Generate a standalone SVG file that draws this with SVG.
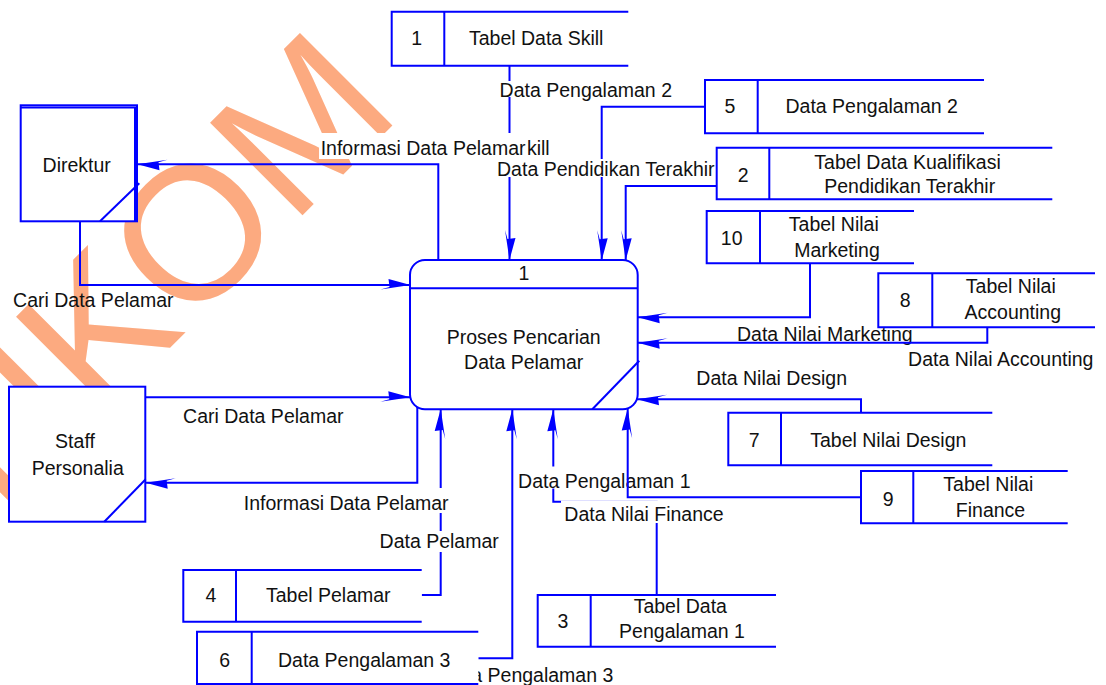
<svg xmlns="http://www.w3.org/2000/svg" width="1106" height="685" viewBox="0 0 1106 685">
  <defs>
    <style>
      text { font-family: "Liberation Sans", Arial, sans-serif; font-size: 19.5px; fill: #111; }
      .c { text-anchor: middle; }
      .e { text-anchor: end; }
      .box { fill: #fff; stroke: #0000FF; stroke-width: 2; }
      .ln { fill: none; stroke: #0000FF; stroke-width: 2; }
      .flow { fill: none; stroke: #0000FF; stroke-width: 2; marker-end: url(#arrow); }
      .bg { fill: #fff; }
      .wm { font-size: 190px; fill: #FCAA80; }
    </style>
    <marker id="arrow" markerUnits="userSpaceOnUse" orient="auto" viewBox="-32 -8 34 16" markerWidth="34" markerHeight="16" refX="0" refY="0" overflow="visible">
      <path d="M0,0 L-22,-6 L-21,2 L-30,4.5 Z" fill="#0000FF"/>
    </marker>
  </defs>

  <rect width="1106" height="685" fill="#fff"/>

  <!-- background watermark -->
  <g id="watermark">
    <text class="wm" transform="translate(-111.5,629.3) rotate(-45)">STIKOM</text>
  </g>

  <!-- data flows, each with its label -->
  <g id="connectors">
    <g id="flow-skill">
      <path class="flow" d="M509.5,65.7 V260"/>
      <text class="e" x="549.7" y="155">Data Skill</text>
    </g>
    <g id="flow-pengalaman2">
      <path class="flow" d="M705,106.7 H601.7 V260.3"/>
      <rect class="bg" x="499" y="81" width="174" height="16"/>
      <text class="c" x="585.8" y="96.5">Data Pengalaman 2</text>
    </g>
    <g id="flow-pendidikan">
      <path class="flow" d="M716.7,186 H625.7 V260.3"/>
      <rect class="bg" x="497" y="159" width="218" height="18"/>
      <text class="c" x="605.8" y="176">Data Pendidikan Terakhir</text>
    </g>
    <g id="flow-info-direktur">
      <path class="flow" d="M438.3,260 V164.3 H137.5"/>
      <rect class="bg" x="319" y="133" width="208" height="26"/>
      <text class="c" x="423.1" y="154.8">Informasi Data Pelamar</text>
    </g>
    <g id="flow-cari-direktur">
      <path class="flow" d="M80,221.3 V285 H410.5"/>
      <text class="c" x="93.3" y="307">Cari Data Pelamar</text>
    </g>
    <g id="flow-cari-staff">
      <path class="flow" d="M145.3,397.3 H410.3"/>
      <text class="c" x="263.3" y="423.3">Cari Data Pelamar</text>
    </g>
    <g id="flow-pelamar">
      <path class="flow" d="M421.7,595 H440.7 V409"/>
      <rect class="bg" x="380" y="531" width="119" height="21"/>
      <text class="c" x="439.2" y="547.7">Data Pelamar</text>
    </g>
    <g id="flow-info-staff">
      <path class="flow" d="M417.3,407 V482.7 H145.7"/>
      <rect class="bg" x="244" y="488" width="205" height="25"/>
      <text class="c" x="346.2" y="510">Informasi Data Pelamar</text>
    </g>
    <g id="flow-pengalaman3">
      <path class="flow" d="M478.3,658.3 H512.3 V409.3"/>
      <text class="e" x="613.3" y="681.7">Data Pengalaman 3</text>
    </g>
    <g id="flow-pengalaman1">
      <path class="flow" d="M656.7,595 V501.7 H553.3 V409.3"/>
      <rect class="bg" x="518" y="466.5" width="173" height="22"/>
      <text class="c" x="604.3" y="487.8">Data Pengalaman 1</text>
    </g>
    <g id="flow-finance">
      <path class="flow" d="M861,497.3 H627.7 V408.5"/>
      <rect class="bg" x="561" y="500.5" width="166" height="22.5"/>
      <text class="c" x="644" y="520.7">Data Nilai Finance</text>
    </g>
    <g id="flow-design">
      <path class="flow" d="M861,412.7 V399.3 H637"/>
      <text class="c" x="771.7" y="385">Data Nilai Design</text>
    </g>
    <g id="flow-marketing">
      <path class="flow" d="M810,263.3 V317.3 H637.7"/>
      <text class="c" x="824.8" y="341">Data Nilai Marketing</text>
    </g>
    <g id="flow-accounting">
      <path class="flow" d="M987.3,327.3 V342.7 H637.7"/>
      <text class="c" x="1000.8" y="366">Data Nilai Accounting</text>
    </g>
  </g>

  <!-- process -->
  <g id="process-1">
    <rect class="box" x="410" y="260" width="227.7" height="149.3" rx="15" ry="15"/>
    <line class="ln" x1="410" y1="288.3" x2="637.7" y2="288.3"/>
    <line class="ln" x1="592.3" y1="409.3" x2="639.3" y2="360.7"/>
    <text class="c" x="524" y="280">1</text>
    <text class="c" x="523.7" y="344">Proses Pencarian</text>
    <text class="c" x="523.7" y="369">Data Pelamar</text>
  </g>

  <!-- external entities -->
  <g id="entity-direktur">
    <rect class="box" x="20.7" y="105.3" width="116.3" height="116"/>
    <polyline class="ln" points="20.7,107.5 135,107.5 135,221.3"/>
    <line class="ln" x1="100" y1="221.3" x2="139.3" y2="183.3"/>
    <text class="c" x="76.7" y="171.7">Direktur</text>
  </g>
  <g id="entity-staff">
    <rect class="box" x="9" y="386.7" width="136.3" height="135"/>
    <line class="ln" x1="104.3" y1="521.7" x2="145.7" y2="479.3"/>
    <text class="c" x="75" y="448.3">Staff</text>
    <text class="c" x="77.7" y="475">Personalia</text>
  </g>

  <!-- data stores -->
  <g id="store-1">
    <rect x="391.7" y="11.7" width="236.6" height="54" fill="#fff"/>
    <path class="ln" d="M628.3,11.7 H391.7 V65.7 H628.3 M444.3,11.7 V65.7"/>
    <text class="c" x="416.7" y="45">1</text>
    <text class="c" x="536.2" y="45">Tabel Data Skill</text>
  </g>
  <g id="store-5">
    <rect x="705" y="80" width="279" height="53.3" fill="#fff"/>
    <path class="ln" d="M984,80 H705 V133.3 H984 M757.7,80 V133.3"/>
    <text class="c" x="730" y="113.3">5</text>
    <text class="c" x="871.7" y="113.3">Data Pengalaman 2</text>
  </g>
  <g id="store-2">
    <rect x="716.7" y="147.7" width="335.6" height="51.6" fill="#fff"/>
    <path class="ln" d="M1052.3,147.7 H716.7 V199.3 H1052.3 M769.3,147.7 V199.3"/>
    <text class="c" x="743.3" y="181.7">2</text>
    <text class="c" x="907.5" y="169">Tabel Data Kualifikasi</text>
    <text class="c" x="909.7" y="193.3">Pendidikan Terakhir</text>
  </g>
  <g id="store-10">
    <rect x="706.7" y="211" width="207.3" height="52.3" fill="#fff"/>
    <path class="ln" d="M914,211 H706.7 V263.3 H914 M760,211 V263.3"/>
    <text class="c" x="731.7" y="245">10</text>
    <text class="c" x="833.8" y="231">Tabel Nilai</text>
    <text class="c" x="837" y="256.7">Marketing</text>
  </g>
  <g id="store-8">
    <rect x="878.3" y="273.3" width="216.7" height="54" fill="#fff"/>
    <path class="ln" d="M1095,273.3 H878.3 V327.3 H1095 M932.3,273.3 V327.3"/>
    <text class="c" x="905.3" y="306.7">8</text>
    <text class="c" x="1010.8" y="293.3">Tabel Nilai</text>
    <text class="c" x="1012.8" y="319.3">Accounting</text>
  </g>
  <g id="store-7">
    <rect x="728.3" y="412.7" width="264" height="52.6" fill="#fff"/>
    <path class="ln" d="M992.3,412.7 H728.3 V465.3 H992.3 M781,412.7 V465.3"/>
    <text class="c" x="754.3" y="447.3">7</text>
    <text class="c" x="888.3" y="447.3">Tabel Nilai Design</text>
  </g>
  <g id="store-9">
    <rect x="861" y="471" width="206.7" height="52.3" fill="#fff"/>
    <path class="ln" d="M1067.7,471 H861 V523.3 H1067.7 M913.3,471 V523.3"/>
    <text class="c" x="888.3" y="505.7">9</text>
    <text class="c" x="988.3" y="491">Tabel Nilai</text>
    <text class="c" x="990.5" y="516.7">Finance</text>
  </g>
  <g id="store-3">
    <rect x="537.7" y="595" width="238.3" height="51.7" fill="#fff"/>
    <path class="ln" d="M776,595 H537.7 V646.7 H776 M590.7,595 V646.7"/>
    <text class="c" x="563" y="627.7">3</text>
    <text class="c" x="680.3" y="612.7">Tabel Data</text>
    <text class="c" x="682" y="638.3">Pengalaman 1</text>
  </g>
  <g id="store-4">
    <rect x="183.3" y="570" width="238.4" height="51.7" fill="#fff"/>
    <path class="ln" d="M421.7,570 H183.3 V621.7 H421.7 M236,570 V621.7"/>
    <text class="c" x="211" y="601.7">4</text>
    <text class="c" x="328.3" y="601.7">Tabel Pelamar</text>
  </g>
  <g id="store-6">
    <rect x="197" y="631.7" width="281.3" height="52.3" fill="#fff"/>
    <path class="ln" d="M478.3,631.7 H197 V684 H478.3 M251.7,631.7 V684"/>
    <text class="c" x="224.7" y="666.7">6</text>
    <text class="c" x="364.2" y="666.7">Data Pengalaman 3</text>
  </g>
</svg>
